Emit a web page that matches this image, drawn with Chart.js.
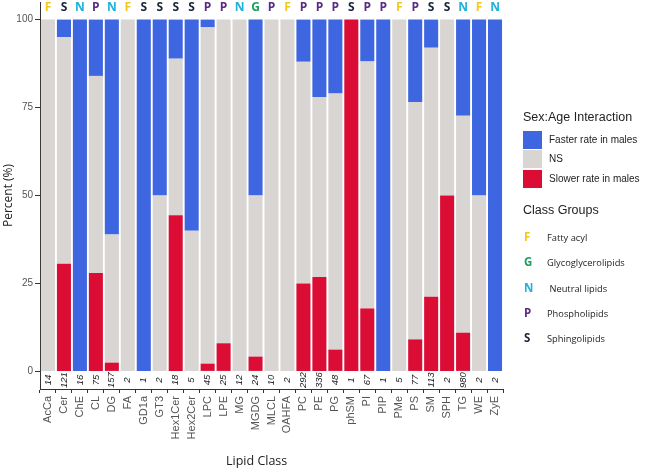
<!DOCTYPE html>
<html lang="en">
<head>
    <meta charset="UTF-8">
    <title>Sex:Age Interaction by Lipid Class</title>
    <script src="https://cdn.jsdelivr.net/npm/chart.js"></script>
    <style>
        html, body { margin: 0; padding: 0; background: #fff; }
        #wrap { position: relative; width: 646px; height: 469px; }
        #legend { position: absolute; left: 523px; top: 110px; font-family: "Liberation Sans", Arial, sans-serif; color: #222; }
        #xtitle { position: absolute; left: 226px; top: 452px; font-family: "Open Sans", sans-serif; font-size: 12.5px; color: #222; white-space: nowrap; }
        .ltitle { font-size: 12.5px; position: absolute; white-space: nowrap; }
        .sw { position: absolute; width: 19px; height: 18px; }
        .slab { position: absolute; font-size: 10px; white-space: nowrap; }
        .gl { position: absolute; font-family: "Open Sans", sans-serif; font-weight: bold; font-size: 11.5px; }
        .glab { position: absolute; font-family: "Open Sans", sans-serif; font-size: 9.3px; white-space: nowrap; }
    </style>
</head>
<body>
<div id="wrap">
    <canvas id="chart" width="646" height="469"></canvas>
    <div id="xtitle">Lipid Class</div>
    <div id="legend"></div>
</div>

<script>
    // lipid classes along the x axis
    const lipidClasses = ["AcCa", "Cer", "ChE", "CL", "DG", "FA", "GD1a", "GT3", "Hex1Cer", "Hex2Cer",
        "LPC", "LPE", "MG", "MGDG", "MLCL", "OAHFA", "PC", "PE", "PG", "phSM",
        "PI", "PIP", "PMe", "PS", "SM", "SPH", "TG", "WE", "ZyE"];
    // class group letter above each bar
    const classGroups = ["F", "S", "N", "P", "N", "F", "S", "S", "S", "S",
        "P", "P", "N", "G", "P", "F", "P", "P", "P", "S",
        "P", "P", "F", "P", "S", "S", "N", "F", "N"];
    // number of lipids per class (italic numbers under the bars)
    const lipidCounts = [14, 121, 16, 75, 157, 2, 1, 2, 18, 5,
        45, 25, 12, 24, 10, 2, 292, 336, 48, 1,
        67, 1, 5, 77, 113, 2, 980, 2, 2];

    // percentages, stacked bottom -> top: slower, NS, faster
    const slowerPct = [0, 30.6, 0, 28, 2.5, 0, 0, 0, 44.4, 0,
        2.2, 8, 0, 4.2, 0, 0, 25, 26.8, 6.2, 100,
        17.9, 0, 0, 9.1, 21.2, 50, 11, 0, 0];
    const nsPct = [100, 64.4, 0, 56, 36.4, 100, 0, 50, 44.5, 40,
        95.6, 92, 100, 45.8, 100, 100, 63, 51.2, 72.8, 0,
        70.2, 0, 100, 67.5, 70.8, 50, 61.7, 50, 0];
    const fasterPct = [0, 5, 100, 16, 61.1, 0, 100, 50, 11.1, 60,
        2.2, 0, 0, 50, 0, 0, 12, 22, 21, 0,
        11.9, 100, 0, 23.4, 8, 0, 27.3, 50, 100];

    const yTicks = [0, 25, 50, 75, 100];

    const seriesNames = ["Faster rate in males", "NS", "Slower rate in males"];
    const groupNames = { F: "Fatty acyl", G: "Glycoglycerolipids", N: " Neutral lipids", P: "Phospholipids", S: "Sphingolipids" };

    const BLUE = "#3d66e0", GREY = "#d9d5d3", RED = "#dc0d35";
    const groupColors = { F: "#f5c71a", G: "#1c9e5b", N: "#1fb0dc", P: "#5a2d82", S: "#1b2237" };

    // letters on top and counts below the bars
    const annotate = {
        id: "annotate",
        afterDatasetsDraw(chart) {
            const ctx = chart.ctx;
            const x = chart.scales.x, y = chart.scales.y;
            ctx.save();
            ctx.textAlign = "center";
            ctx.textBaseline = "middle";
            lipidClasses.forEach((c, i) => {
                const px = x.getPixelForValue(i);
                ctx.font = 'bold 12px "Open Sans"';
                ctx.fillStyle = groupColors[classGroups[i]];
                ctx.fillText(classGroups[i], px, y.getPixelForValue(103.4));

                ctx.save();
                ctx.translate(px, y.getPixelForValue(-2.45));
                ctx.rotate(-Math.PI / 2);
                ctx.font = 'italic 9.5px "Liberation Sans"';
                ctx.fillStyle = "#222";
                ctx.fillText(String(lipidCounts[i]), 0, 0);
                ctx.restore();
            });
            ctx.restore();
        }
    };

    const ctx = document.getElementById("chart").getContext("2d");
    new Chart(ctx, {
        type: "bar",
        data: {
            labels: lipidClasses,
            datasets: [
                { label: seriesNames[2], data: slowerPct, backgroundColor: RED },
                { label: seriesNames[1], data: nsPct, backgroundColor: GREY },
                { label: seriesNames[0], data: fasterPct, backgroundColor: BLUE }
            ]
        },
        options: {
            responsive: false,
            animation: false,
            layout: { padding: { left: 0, right: 143, top: 2, bottom: 0 } },
            datasets: { bar: { categoryPercentage: 1, barPercentage: 0.88, borderWidth: 0 } },
            plugins: { legend: { display: false }, tooltip: { enabled: false } },
            scales: {
                x: {
                    stacked: true,
                    afterFit: s => { s.height = 80; s.paddingLeft = 0; s.paddingRight = 0; },
                    grid: { display: true, drawOnChartArea: false, drawTicks: true, tickLength: 4, color: "#333" },
                    border: { display: true, color: "#333", width: 1 },
                    ticks: {
                        autoSkip: false, minRotation: 90, maxRotation: 90, padding: 3,
                        color: "#555", font: { family: "Liberation Sans", size: 11 }
                    }
                },
                y: {
                    stacked: true,
                    min: -5, max: 105,
                    afterFit: s => { s.width = 40; s.paddingTop = 0; s.paddingBottom = 0; },
                    afterBuildTicks: s => { s.ticks = yTicks.map(v => ({ value: v })); },
                    grid: { display: true, drawOnChartArea: false, drawTicks: true, tickLength: 5, color: "#333" },
                    border: { display: true, color: "#333", width: 1 },
                    ticks: { padding: 2, color: "#555", font: { family: "Liberation Sans", size: 10 } },
                    title: {
                        display: true, text: "Percent (%)", color: "#222",
                        font: { family: "Open Sans", size: 12 }, padding: { top: 1, bottom: 0 }
                    }
                }
            }
        },
        plugins: [annotate]
    });

    // legend on the right
    const lg = document.getElementById("legend");
    let html = '<div class="ltitle" style="top:0px">Sex:Age Interaction</div>';
    [BLUE, GREY, RED].forEach((col, i) => {
        html += `<div class="sw" style="top:${21 + i * 19.3}px;background:${col}"></div>`;
        html += `<div class="slab" style="left:26px;top:${24 + i * 19.3}px">${seriesNames[i]}</div>`;
    });
    html += '<div class="ltitle" style="top:93px">Class Groups</div>';
    Object.keys(groupNames).forEach((k, i) => {
        const top = 119 + i * 25.3;
        html += `<div class="gl" style="left:1px;top:${top}px;color:${groupColors[k]}">${k}</div>`;
        html += `<div class="glab" style="left:24px;top:${top + 2}px">${groupNames[k].replace(" ", "&nbsp;")}</div>`;
    });
    lg.innerHTML = html;
</script>
</body>
</html>
